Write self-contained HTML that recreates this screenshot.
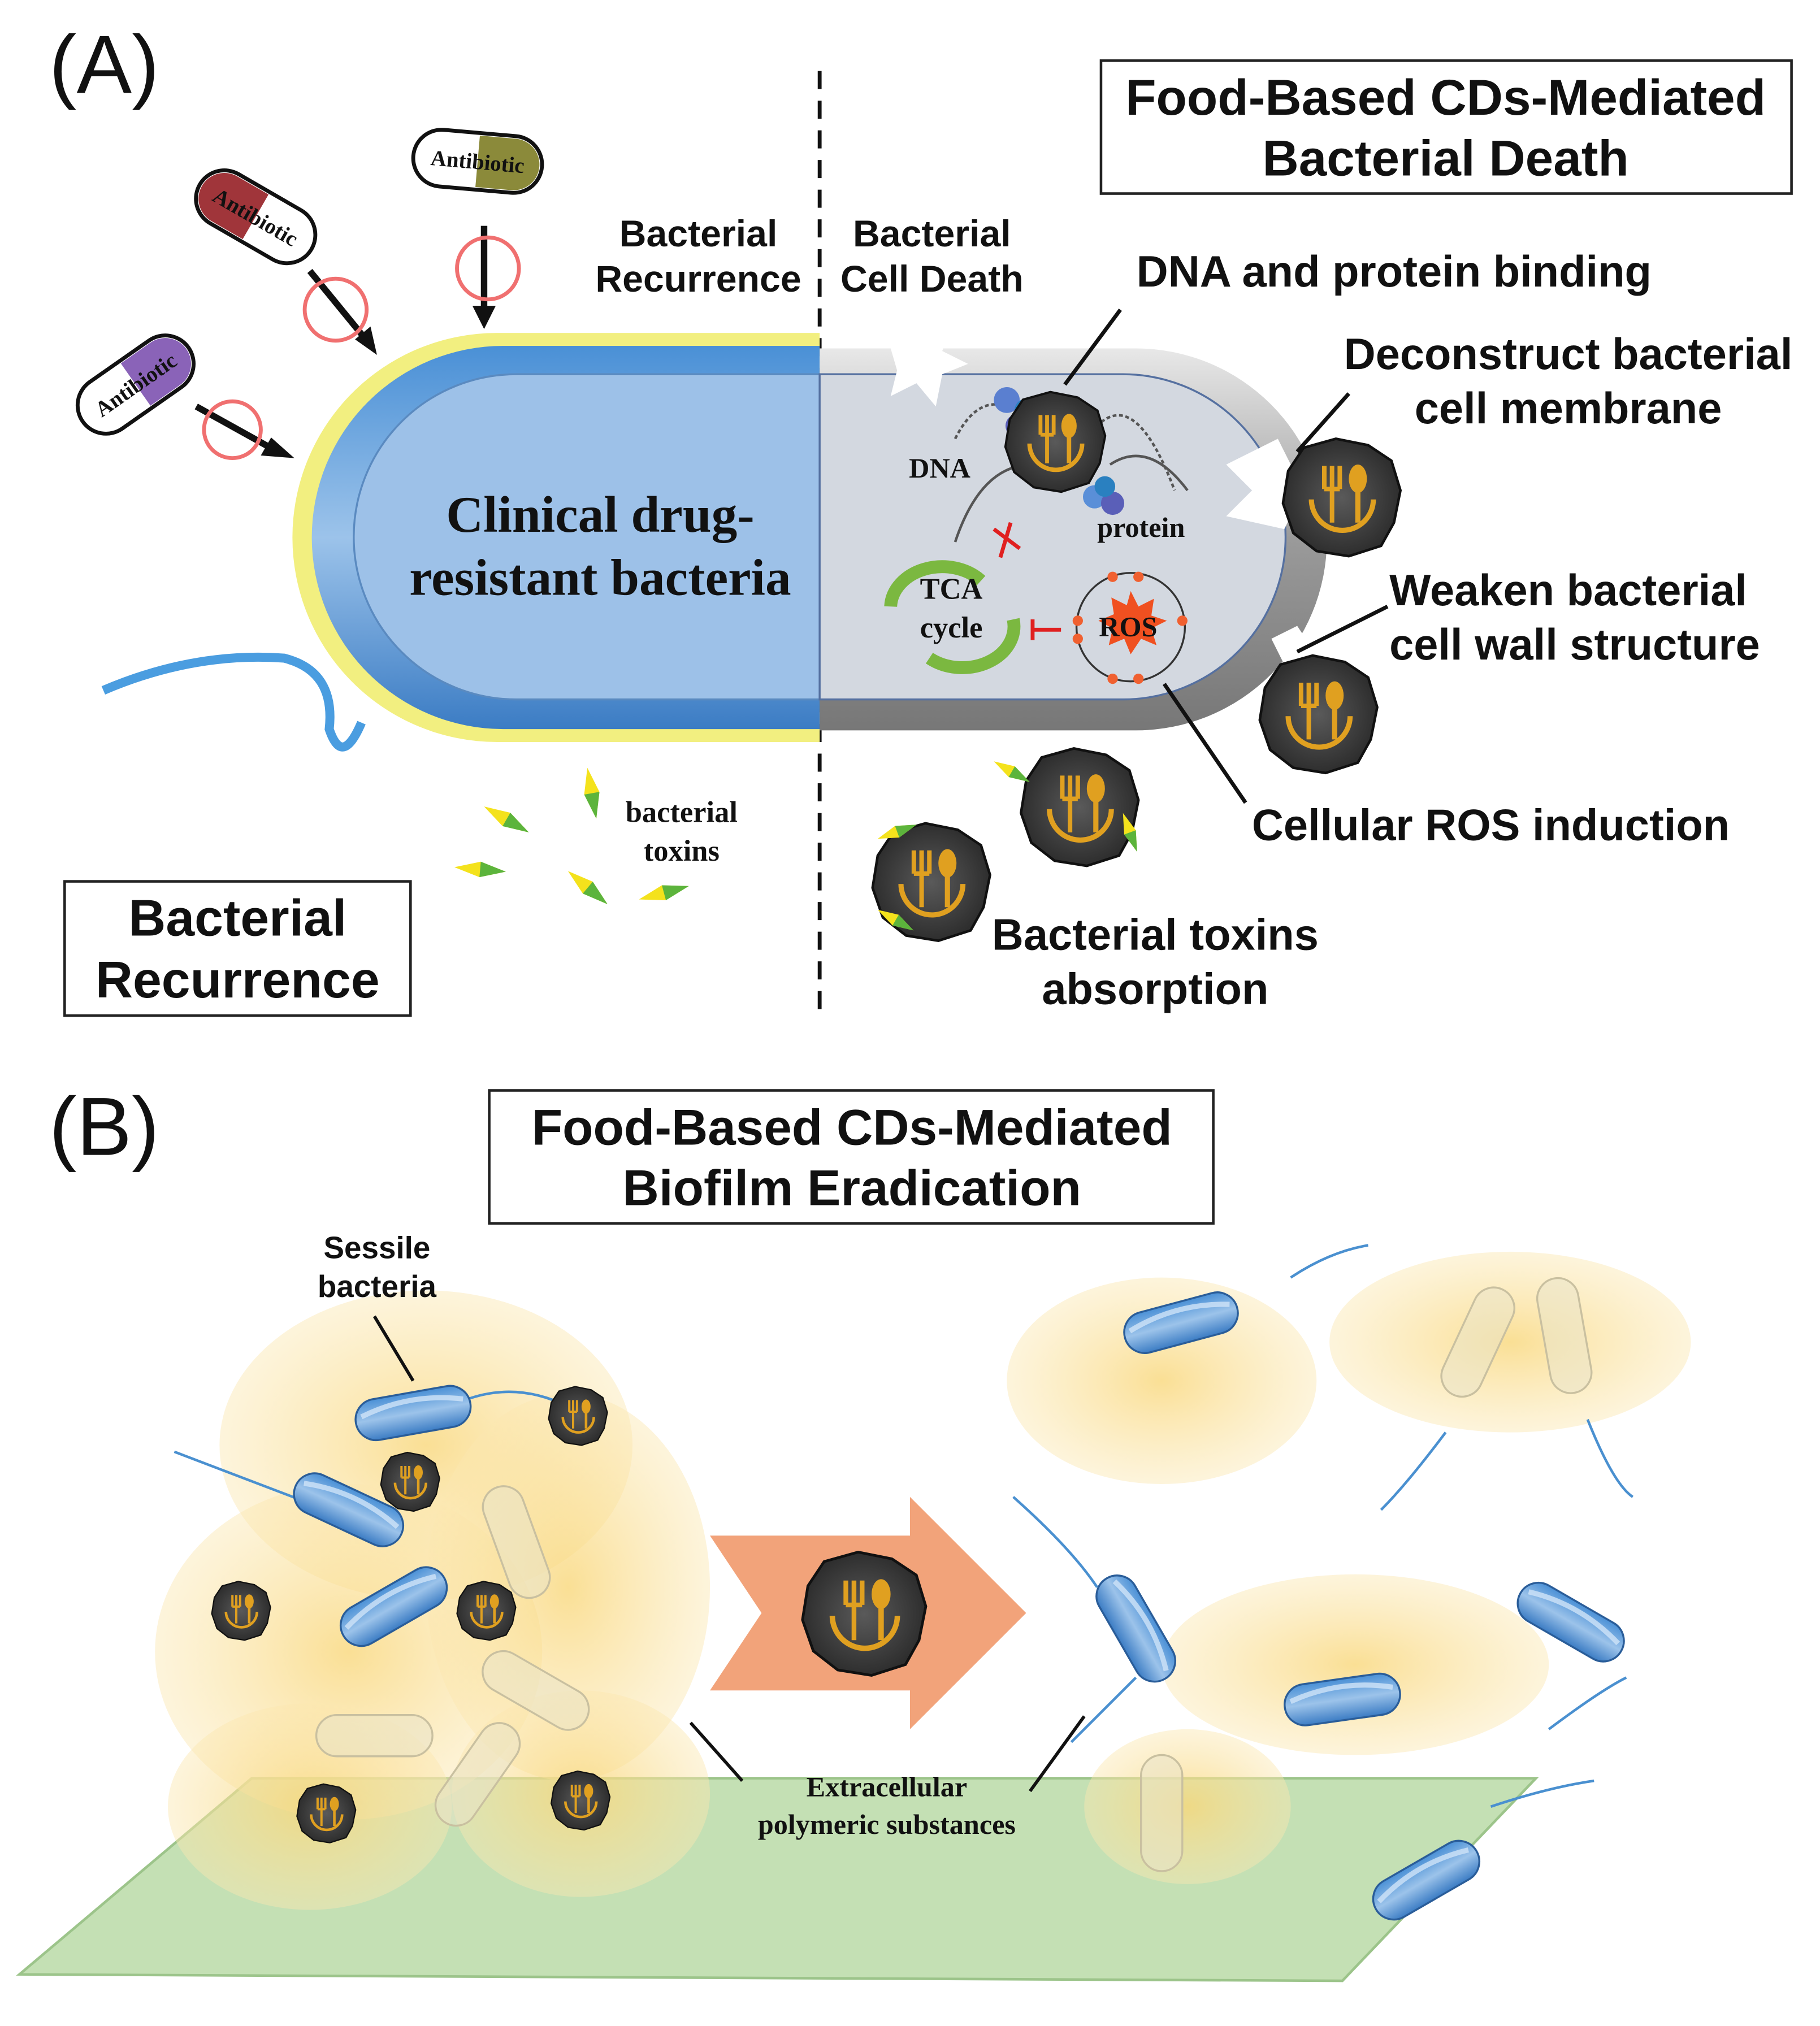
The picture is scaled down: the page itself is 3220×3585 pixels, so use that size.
<!DOCTYPE html>
<html><head><meta charset="utf-8"><style>
html,body{margin:0;padding:0;background:#fff}
svg{display:block}
.b{font-family:"Liberation Sans",sans-serif;font-weight:bold;fill:#111}
.s{font-family:"Liberation Serif",serif;font-weight:bold;fill:#111}
</style></head><body>
<svg width="3220" height="3585" viewBox="0 0 1410 1570" xmlns="http://www.w3.org/2000/svg">
<defs>
<linearGradient id="gb" x1="0" y1="0" x2="0" y2="1"><stop offset="0" stop-color="#4a90d6"/><stop offset=".5" stop-color="#9cc3ea"/><stop offset="1" stop-color="#3b7cc4"/></linearGradient>
<linearGradient id="gg" x1="0" y1="0" x2="0" y2="1"><stop offset="0" stop-color="#e8e8e8"/><stop offset=".5" stop-color="#9a9a9a"/><stop offset="1" stop-color="#777"/></linearGradient>
<radialGradient id="cd"><stop offset="0" stop-color="#5a5a5a"/><stop offset="1" stop-color="#2e2e2e"/></radialGradient>
<radialGradient id="cl"><stop offset="0" stop-color="#f9d77a" stop-opacity=".8"/><stop offset="1" stop-color="#fbe7b0" stop-opacity=".45"/></radialGradient>
<g id="cdp">
<path d="M-30,-38 L-5,-45 L20,-40 L38,-28 L45,-5 L40,20 L30,38 L5,46 L-20,42 L-38,28 L-46,5 L-42,-20 Z" fill="url(#cd)" stroke="#111" stroke-width="2"/>
<path d="M-24,2 A24,24 0 1 0 24,2" fill="none" stroke="#e0a020" stroke-width="4"/>
<path d="M-14,-24 v18 M-8,-24 v18 M-2,-24 v18 M-14,-6 h12 M-8,-6 v26" stroke="#e0a020" stroke-width="3.5" fill="none"/>
<ellipse cx="12" cy="-14" rx="7" ry="11" fill="#e0a020"/><rect x="10" y="-4" width="4" height="24" fill="#e0a020"/>
</g>
<g id="bac"><rect x="-45" y="-16" width="90" height="32" rx="16" fill="url(#gb)" stroke="#2a5d99" stroke-width="1.5"/><path d="M-40,-4 Q0,-16 40,-4" stroke="#cfe3f7" stroke-width="4" fill="none" opacity=".8"/></g>
<g id="bacg"><rect x="-45" y="-16" width="90" height="32" rx="16" fill="#e9e3c8" fill-opacity=".55" stroke="#c9c0a0" stroke-width="1.5"/></g>
<g id="tox"><path d="M0,0 L20,-6 L40,0 L20,6 Z" fill="#f4e21c"/><path d="M20,-6 L40,0 L20,6Z" fill="#5cb43c"/></g>
</defs>

<text x="38" y="72" font-family="Liberation Sans,sans-serif" font-size="64" fill="#111">(A)</text>
<line x1="635" y1="55" x2="635" y2="788" stroke="#111" stroke-width="3" stroke-dasharray="14,9"/>
<rect x="853" y="47" width="535" height="103" fill="#fff" stroke="#222" stroke-width="2"/>
<text class="b" x="1120" y="89" font-size="39" text-anchor="middle">Food-Based CDs-Mediated</text>
<text class="b" x="1120" y="136" font-size="39" text-anchor="middle">Bacterial Death</text>
<text class="b" x="541" y="191" font-size="29" text-anchor="middle">Bacterial</text>
<text class="b" x="541" y="226" font-size="29" text-anchor="middle">Recurrence</text>
<text class="b" x="722" y="191" font-size="29" text-anchor="middle">Bacterial</text>
<text class="b" x="722" y="226" font-size="29" text-anchor="middle">Cell Death</text>

<path d="M635,258 L385,258 A158,158 0 0 0 385,575 L635,575 Z" fill="#f2ef80" />
<path d="M635,268 L390,268 A148,148 0 0 0 390,565 L635,565 Z" fill="url(#gb)"/>
<path d="M635,290 L400,290 A126,126 0 0 0 400,542 L635,542 Z" fill="#9dc1e8" stroke="#5a8ac0" stroke-width="1.5"/>
<path d="M635,270 L880,270 A148,148 0 0 1 880,566 L635,566 Z" fill="url(#gg)"/>
<path d="M635,290 L870,290 A126,126 0 0 1 870,542 L635,542 Z" fill="#d3d8e0" stroke="#5570a0" stroke-width="1.5"/>
<path d="M80,535 Q150,505 220,510 Q260,520 255,565 Q265,595 280,560" fill="none" stroke="#4a9de0" stroke-width="7"/>
<text class="s" x="465" y="412" font-size="40" text-anchor="middle">Clinical drug-</text>
<text class="s" x="465" y="461" font-size="40" text-anchor="middle">resistant bacteria</text>

<g transform="translate(105,298) rotate(-35)"><rect x="-50" y="-22" width="100" height="44" rx="22" fill="#fff" stroke="#111" stroke-width="3"/><path d="M0,-20 h28 a20,20 0 0 1 0,40 h-28z" fill="#8a63b8"/><text class="s" x="0" y="6" font-size="17" text-anchor="middle">Antibiotic</text></g>
<g transform="translate(198,168) rotate(30)"><rect x="-50" y="-22" width="100" height="44" rx="22" fill="#fff" stroke="#111" stroke-width="3"/><path d="M0,-20 h-28 a20,20 0 0 0 0,40 h28z" fill="#a0353a"/><text class="s" x="0" y="6" font-size="17" text-anchor="middle">Antibiotic</text></g>
<g transform="translate(370,125) rotate(5)"><rect x="-50" y="-22" width="100" height="44" rx="22" fill="#fff" stroke="#111" stroke-width="3"/><path d="M0,-20 h28 a20,20 0 0 1 0,40 h-28z" fill="#8b8a3a"/><text class="s" x="0" y="6" font-size="17" text-anchor="middle">Antibiotic</text></g>
<g stroke="#111" stroke-width="5"><line x1="152" y1="315" x2="215" y2="350"/><line x1="240" y1="210" x2="285" y2="265"/><line x1="375" y1="175" x2="375" y2="245"/></g>
<g fill="#111"><path d="M228,355 l-18,-16 l-8,14z"/><path d="M292,275 l-5,-22 l-12,10z"/><path d="M375,255 l-9,-18 h18z"/></g>
<g fill="none" stroke="#f07070" stroke-width="3"><circle cx="180" cy="333" r="22"/><circle cx="260" cy="240" r="24"/><circle cx="378" cy="208" r="24"/></g>

<rect x="50" y="683" width="268" height="104" fill="#fff" stroke="#222" stroke-width="2"/>
<text class="b" x="184" y="725" font-size="40" text-anchor="middle">Bacterial</text>
<text class="b" x="184" y="773" font-size="40" text-anchor="middle">Recurrence</text>
<text class="s" x="528" y="637" font-size="23" text-anchor="middle">bacterial</text>
<text class="s" x="528" y="667" font-size="23" text-anchor="middle">toxins</text>
<use href="#tox" transform="translate(375,625) rotate(30)"/><use href="#tox" transform="translate(455,595) rotate(80)"/>
<use href="#tox" transform="translate(352,672) rotate(5)"/><use href="#tox" transform="translate(440,675) rotate(40)"/><use href="#tox" transform="translate(495,697) rotate(-15)"/>

<path d="M740,340 Q760,300 790,320 Q820,360 850,330 Q880,300 910,380" fill="none" stroke="#555" stroke-width="2" stroke-dasharray="3,2"/>
<path d="M740,420 Q760,360 800,360 M860,360 Q890,340 920,380" fill="none" stroke="#555" stroke-width="2"/>
<circle cx="780" cy="310" r="10" fill="#5a7fd0"/><circle cx="795" cy="318" r="9" fill="#2a80c0"/><circle cx="788" cy="330" r="9" fill="#5a5fb8"/>
<circle cx="848" cy="385" r="9" fill="#5a8fd8"/><circle cx="862" cy="390" r="9" fill="#5a5fb8"/><circle cx="856" cy="377" r="8" fill="#2a80c0"/>
<use href="#cdp" transform="translate(818,342) scale(0.85)"/>
<text class="s" x="728" y="370" font-size="22" text-anchor="middle">DNA</text>
<text class="s" x="884" y="416" font-size="22" text-anchor="middle">protein</text>
<path d="M770,410 L790,425 M783,405 L775,432" stroke="#e02020" stroke-width="3"/>
<path d="M690,470 A40,32 0 0 1 760,450 M785,480 A40,32 0 0 1 720,510" fill="none" stroke="#7bb840" stroke-width="10"/>
<text class="s" x="737" y="464" font-size="23" text-anchor="middle">TCA</text>
<text class="s" x="737" y="494" font-size="23" text-anchor="middle">cycle</text>
<path d="M800,480 v16 M800,488 h22" stroke="#e02020" stroke-width="3"/>
<circle cx="876" cy="486" r="42" fill="none" stroke="#333" stroke-width="1.5"/>
<path d="M876,458 l6,12 l12,-6 l-2,13 l12,4 l-12,6 l4,13 l-12,-5 l-8,12 l-5,-12 l-12,5 l3,-13 l-11,-6 l12,-5 l-2,-13 l12,6z" fill="#f05020"/>
<text class="s" x="874" y="493" font-size="22" text-anchor="middle">ROS</text>
<g fill="#f06030"><circle cx="862" cy="447" r="4"/><circle cx="882" cy="447" r="4"/><circle cx="862" cy="526" r="4"/><circle cx="882" cy="526" r="4"/><circle cx="835" cy="481" r="4"/><circle cx="835" cy="495" r="4"/><circle cx="916" cy="481" r="4"/></g>
<g fill="#fff"><path d="M690,270 l20,-8 l25,-5 l-5,15 l20,10 l-20,8 l-5,25 l-15,-18 l-20,10 l5,-20z"/><path d="M950,360 l40,-20 l20,40 l-15,30 l-45,-10 l20,-20z"/><path d="M985,495 l20,-10 l10,15 l-20,15z"/></g>
<use href="#cdp" transform="translate(1040,385)"/>
<use href="#cdp" transform="translate(1022,553)"/>
<use href="#cdp" transform="translate(837,625)"/>
<use href="#cdp" transform="translate(722,683)"/>
<use href="#tox" transform="translate(770,590) rotate(30) scale(.8)"/><use href="#tox" transform="translate(680,650) rotate(-20) scale(.8)"/><use href="#tox" transform="translate(680,705) rotate(30) scale(.8)"/><use href="#tox" transform="translate(870,630) rotate(70) scale(.8)"/>
<g stroke="#111" stroke-width="3"><line x1="868" y1="240" x2="825" y2="298"/><line x1="1045" y1="305" x2="1005" y2="350"/><line x1="1075" y1="470" x2="1005" y2="505"/><line x1="902" y1="530" x2="965" y2="622"/></g>
<text class="b" x="1080" y="222" font-size="34" text-anchor="middle">DNA and protein binding</text>
<text class="b" x="1215" y="286" font-size="34" text-anchor="middle">Deconstruct bacterial</text>
<text class="b" x="1215" y="328" font-size="34" text-anchor="middle">cell membrane</text>
<text class="b" x="1215" y="469" font-size="34" text-anchor="middle">Weaken bacterial</text>
<text class="b" x="1220" y="511" font-size="34" text-anchor="middle">cell wall structure</text>
<text class="b" x="1155" y="651" font-size="34" text-anchor="middle">Cellular ROS induction</text>
<text class="b" x="895" y="736" font-size="34" text-anchor="middle">Bacterial toxins</text>
<text class="b" x="895" y="778" font-size="34" text-anchor="middle">absorption</text>

<text x="38" y="895" font-family="Liberation Sans,sans-serif" font-size="64" fill="#111">(B)</text>
<rect x="379" y="845" width="561" height="103" fill="#fff" stroke="#222" stroke-width="2"/>
<text class="b" x="660" y="887" font-size="39" text-anchor="middle">Food-Based CDs-Mediated</text>
<text class="b" x="660" y="934" font-size="39" text-anchor="middle">Biofilm Eradication</text>
<polygon points="15,1530 195,1378 1190,1378 1040,1535" fill="#c4e0b4" stroke="#9cc48a" stroke-width="2"/>
<g fill="url(#cl)">
<ellipse cx="330" cy="1120" rx="160" ry="120"/><ellipse cx="270" cy="1280" rx="150" ry="130"/><ellipse cx="440" cy="1230" rx="110" ry="150"/><ellipse cx="450" cy="1390" rx="100" ry="80"/><ellipse cx="240" cy="1400" rx="110" ry="80"/>
<ellipse cx="900" cy="1070" rx="120" ry="80"/><ellipse cx="1170" cy="1040" rx="140" ry="70"/><ellipse cx="1050" cy="1290" rx="150" ry="70"/><ellipse cx="920" cy="1400" rx="80" ry="60"/>
</g>
<g fill="none" stroke="#4a90d0" stroke-width="2">
<path d="M135,1125 Q200,1150 240,1165"/><path d="M360,1085 Q400,1070 440,1090"/><path d="M830,1350 Q860,1320 880,1300"/><path d="M785,1160 Q830,1200 850,1230"/><path d="M1000,990 Q1030,970 1060,965"/><path d="M1200,1340 Q1240,1310 1260,1300"/><path d="M1155,1400 Q1200,1385 1235,1380"/><path d="M1120,1110 Q1090,1150 1070,1170"/><path d="M1230,1100 Q1250,1150 1265,1160"/>
</g>
<use href="#bac" transform="translate(320,1095) rotate(-10)"/><use href="#bac" transform="translate(270,1170) rotate(25)"/><use href="#bac" transform="translate(305,1245) rotate(-30)"/>
<use href="#bacg" transform="translate(415,1310) rotate(30)"/><use href="#bacg" transform="translate(290,1345)"/><use href="#bacg" transform="translate(370,1375) rotate(-55)"/><use href="#bacg" transform="translate(400,1195) rotate(70)"/>
<use href="#cdp" transform="translate(448,1097) scale(.5)"/><use href="#cdp" transform="translate(318,1148) scale(.5)"/><use href="#cdp" transform="translate(187,1248) scale(.5)"/><use href="#cdp" transform="translate(377,1248) scale(.5)"/><use href="#cdp" transform="translate(253,1405) scale(.5)"/><use href="#cdp" transform="translate(450,1395) scale(.5)"/>
<use href="#bac" transform="translate(915,1025) rotate(-15)"/><use href="#bacg" transform="translate(1145,1040) rotate(-65)"/><use href="#bacg" transform="translate(1212,1035) rotate(80)"/>
<use href="#bac" transform="translate(880,1262) rotate(60)"/><use href="#bac" transform="translate(1217,1257) rotate(30)"/><use href="#bac" transform="translate(1040,1317) rotate(-8)"/><use href="#bacg" transform="translate(900,1405) rotate(90)"/><use href="#bac" transform="translate(1105,1457) rotate(-30)"/>
<polygon points="550,1190 705,1190 705,1160 795,1250 705,1340 705,1310 550,1310 590,1250" fill="#f2a37a"/>
<use href="#cdp" transform="translate(670,1250) scale(1.05)"/>
<g stroke="#111" stroke-width="2.5"><line x1="290" y1="1020" x2="320" y2="1070"/><line x1="535" y1="1335" x2="575" y2="1380"/><line x1="840" y1="1330" x2="798" y2="1388"/></g>
<text class="b" x="292" y="975" font-size="24" text-anchor="middle">Sessile</text>
<text class="b" x="292" y="1005" font-size="24" text-anchor="middle">bacteria</text>
<text class="s" x="687" y="1392" font-size="22" text-anchor="middle">Extracellular</text>
<text class="s" x="687" y="1421" font-size="22" text-anchor="middle">polymeric substances</text>
</svg>
</body></html>
